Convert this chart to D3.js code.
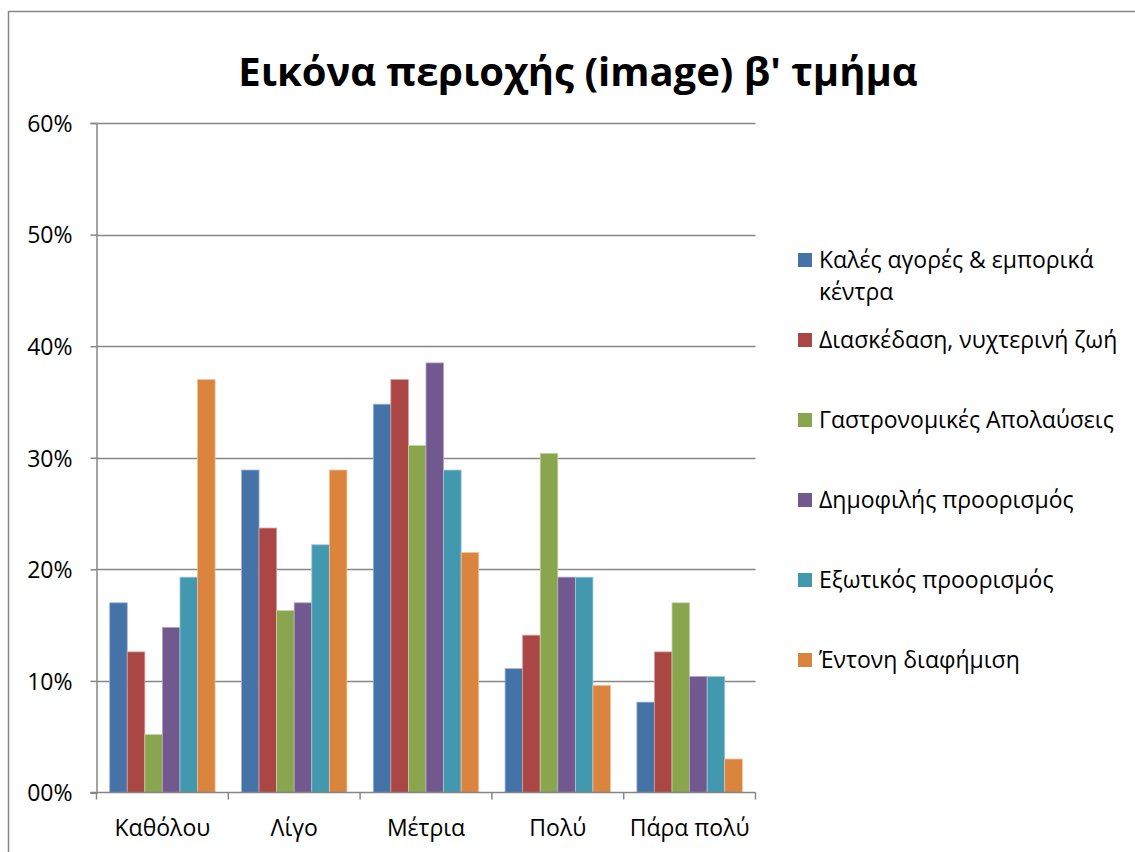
<!DOCTYPE html>
<html>
<head>
<meta charset="utf-8">
<script src="https://cdn.jsdelivr.net/npm/d3@7"></script>
<style>
  html, body { margin: 0; padding: 0; background: #fff; }
  svg { display: block; font-family: "Open Sans", "Noto Sans", sans-serif; }
</style>
</head>
<body>
<svg id="chart" width="1135" height="852"></svg>
<script>
// Response levels (x categories)
const categories = ["Καθόλου", "Λίγο", "Μέτρια", "Πολύ", "Πάρα πολύ"];

// Series names (legend)
const seriesNames = [
  "Καλές αγορές & εμπορικά κέντρα",
  "Διασκέδαση, νυχτερινή ζωή",
  "Γαστρονομικές Απολαύσεις",
  "Δημοφιλής προορισμός",
  "Εξωτικός προορισμός",
  "Έντονη διαφήμιση"
];

// Percentages per series, one value per category
const shopping      = [17.0, 28.9, 34.8, 11.1, 8.1];
const nightlife     = [12.6, 23.7, 37.0, 14.1, 12.6];
const gastronomy    = [5.2, 16.3, 31.1, 30.4, 17.0];
const popular       = [14.8, 17.0, 38.5, 19.3, 10.4];
const exotic        = [19.3, 22.2, 28.9, 19.3, 10.4];
const advertising   = [37.0, 28.9, 21.5, 9.6, 3.0];

// Y axis tick labels
const yTicks = [0, 10, 20, 30, 40, 50, 60];
const yTickLabels = ["00%", "10%", "20%", "30%", "40%", "50%", "60%"];

const seriesValues = [shopping, nightlife, gastronomy, popular, exotic, advertising];
const colors = ["#4572A7", "#AA4643", "#89A54E", "#71588F", "#4198AF", "#DB843D"];
const strokes = ["#9DB4D3", "#D49E9C", "#C3D3A6", "#B3A6C6", "#A1CBD6", "#EEC09C"];

const FONT_SIZE = 23;

const svg = d3.select("#chart");

// Outer chart frame
svg.append("rect")
  .attr("x", 8.5).attr("y", 11.5)
  .attr("width", 1200).attr("height", 900)
  .attr("fill", "#fff")
  .attr("stroke", "#868686").attr("stroke-width", 1.5);

// Title
svg.append("text")
  .attr("x", 578).attr("y", 86)
  .attr("text-anchor", "middle")
  .attr("font-size", 40).attr("font-weight", "bold")
  .attr("fill", "#000")
  .text("Εικόνα περιοχής (image) β' τμήμα");

const plot = { left: 96.5, right: 755.5, top: 123, bottom: 792.5 };

const y = d3.scaleLinear().domain([0, 60]).range([plot.bottom, plot.top]);
const x0 = d3.scaleBand().domain(categories).range([plot.left, plot.right]).padding(0);
const x1 = d3.scaleBand().domain(d3.range(seriesNames.length))
  .range([0, x0.bandwidth()]).paddingInner(0).paddingOuter(0.75);

// Horizontal gridlines
svg.append("g")
  .selectAll("line")
  .data(yTicks.filter(t => t > 0))
  .join("line")
  .attr("x1", plot.left).attr("x2", plot.right)
  .attr("y1", d => Math.round(y(d)) + 0.5).attr("y2", d => Math.round(y(d)) + 0.5)
  .attr("stroke", "#868686").attr("stroke-width", 1.5);

// Bars
const groups = svg.append("g")
  .selectAll("g")
  .data(categories)
  .join("g")
  .attr("transform", d => `translate(${x0(d)},0)`);

groups.selectAll("rect")
  .data((c, ci) => seriesValues.map((vals, si) => ({ si, v: vals[ci] })))
  .join("rect")
  .attr("x", d => x1(d.si))
  .attr("y", d => y(d.v))
  .attr("width", x1.bandwidth())
  .attr("height", d => plot.bottom - y(d.v))
  .attr("fill", d => colors[d.si])
  .attr("stroke", d => strokes[d.si])
  .attr("stroke-width", 0.8);

// Y axis
const yAxis = d3.axisLeft(y)
  .tickValues(yTicks)
  .tickFormat((d, i) => yTickLabels[i])
  .tickSize(6)
  .tickPadding(18);

const gy = svg.append("g")
  .attr("transform", `translate(${plot.left},0)`)
  .call(yAxis);
gy.select(".domain").attr("stroke", "#868686").attr("stroke-width", 1.5);
gy.selectAll(".tick line").attr("stroke", "#868686").attr("stroke-width", 1.5);
gy.selectAll(".tick text")
  .attr("font-size", FONT_SIZE).attr("fill", "#000")
  .attr("font-family", "'Open Sans', sans-serif")
  .attr("dy", "0.36em");

// X axis with ticks on category boundaries
const boundaries = categories.map(c => x0(c)).concat([plot.right]);
const gx = svg.append("g");
gx.append("line")
  .attr("x1", plot.left - 6).attr("x2", plot.right)
  .attr("y1", plot.bottom).attr("y2", plot.bottom)
  .attr("stroke", "#868686").attr("stroke-width", 1.5);
gx.selectAll("line.tick")
  .data(boundaries)
  .join("line")
  .attr("class", "tick")
  .attr("x1", d => d).attr("x2", d => d)
  .attr("y1", plot.bottom).attr("y2", plot.bottom + 7)
  .attr("stroke", "#868686").attr("stroke-width", 1.5);
gx.selectAll("text")
  .data(categories)
  .join("text")
  .attr("x", d => x0(d) + x0.bandwidth() / 2)
  .attr("y", 836)
  .attr("text-anchor", "middle")
  .attr("font-size", FONT_SIZE).attr("fill", "#000")
  .text(d => d);

// Legend
const legendRows = [
  { lines: ["Καλές αγορές & εμπορικά", "κέντρα"], y: 260 },
  { lines: [seriesNames[1]], y: 340 },
  { lines: [seriesNames[2]], y: 420 },
  { lines: [seriesNames[3]], y: 500 },
  { lines: [seriesNames[4]], y: 580 },
  { lines: [seriesNames[5]], y: 660 }
];
const legend = svg.append("g");
legendRows.forEach((row, i) => {
  legend.append("rect")
    .attr("x", 798).attr("y", row.y - 7)
    .attr("width", 14).attr("height", 14)
    .attr("fill", colors[i]);
  row.lines.forEach((ln, j) => {
    legend.append("text")
      .attr("x", 819).attr("y", row.y + j * 32)
      .attr("dy", "0.36em")
      .attr("font-size", FONT_SIZE).attr("fill", "#000")
      .text(ln);
  });
});
</script>
</body>
</html>
